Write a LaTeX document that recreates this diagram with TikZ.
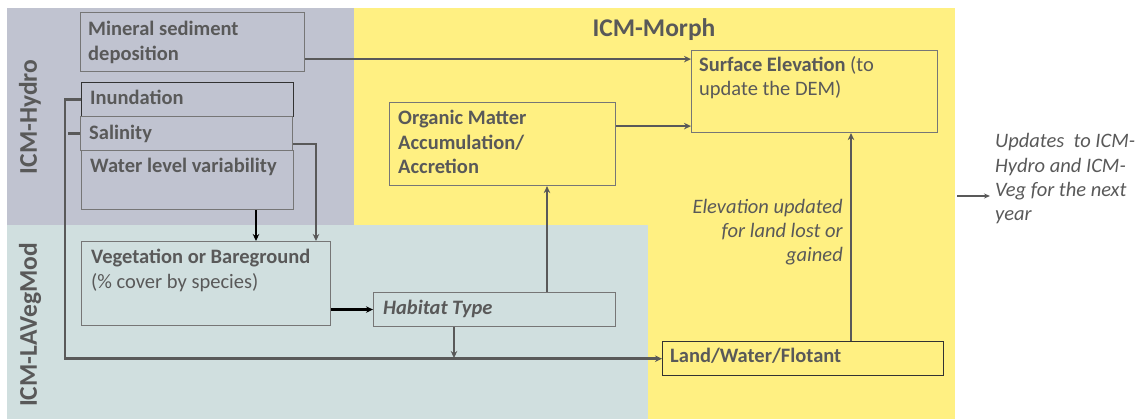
\documentclass[tikz,border=0pt]{standalone}
\usepackage{fontspec}
\setmainfont{Carlito}
\usetikzlibrary{arrows.meta,calc}
\definecolor{hydrobg}{RGB}{192,195,208}
\definecolor{morphbg}{RGB}{255,240,130}
\definecolor{vegbg}{RGB}{208,223,223}
\definecolor{txt}{RGB}{89,89,89}
\definecolor{boxline}{RGB}{118,118,118}
\definecolor{darkline}{RGB}{50,50,50}
\begin{document}
\begin{tikzpicture}[x=1pt,y=-1pt,
  box/.style={draw=boxline,line width=1.1pt,inner sep=0pt,anchor=north west},
  darkbox/.style={box,draw=darkline,line width=1.4pt},
  lbl/.style={anchor=base west,inner sep=0pt,text=txt,font=\fontsize{20.5}{24.5}\selectfont},
  blbl/.style={lbl,font=\fontsize{20.5}{24.5}\selectfont\bfseries},
  ilbl/.style={lbl,font=\fontsize{20.5}{24.5}\selectfont\itshape},
  rlbl/.style={ilbl,anchor=base east},
  conn/.style={draw=txt,line width=2.8pt},
  arr/.style={conn,-{Stealth[length=7pt,width=6.5pt]}},
  blkarr/.style={draw=black,line width=2.8pt,-{Stealth[length=7pt,width=6.5pt]}},
  region/.style={font=\fontsize{25.5}{30}\selectfont\bfseries,text=txt,inner sep=0pt}
]
\useasboundingbox (0,0) rectangle (1146,419);
% regions
\fill[hydrobg] (7,8) rectangle (354,225);
\fill[morphbg] (354,8) rectangle (955,419);
\fill[vegbg] (7,225) rectangle (648,419);
\node[region,rotate=90] (thydro) at (30,117) {ICM-Hydro};
\node[region,rotate=90] (tveg) at (30,325) {ICM-LAVegMod};
\node[region,anchor=base] (tmorph) at (654,37) {ICM-Morph};
% boxes
\node[box,minimum width=224pt,minimum height=59pt] (min) at (80,12) {};
\node[blbl] (tmin1) at (88,36) {Mineral sediment};
\node[blbl] (tmin2) at (88,61) {deposition};
\node[darkbox,minimum width=212pt,minimum height=34pt] (inun) at (81,82) {};
\node[blbl] (tinun) at (90,105) {Inundation};
\node[box,minimum width=212pt,minimum height=34pt] (sal) at (80,116) {};
\node[blbl] (tsal) at (89,140) {Salinity};
\node[box,minimum width=212pt,minimum height=59pt] (wlv) at (81,150) {};
\node[blbl] (twlv) at (90,173) {Water level variability};
\node[box,minimum width=249pt,minimum height=84pt] (veg) at (81,241) {};
\node[blbl] (tveg1) at (91,264) {Vegetation or Bareground};
\node[lbl] (tveg2) at (91,289) {(\% cover by species)};
\node[box,minimum width=242pt,minimum height=34pt] (hab) at (373,292) {};
\node[blbl,font=\fontsize{20.5}{24.5}\selectfont\bfseries\itshape] (thab) at (383,315) {Habitat Type};
\node[box,minimum width=226pt,minimum height=83pt] (org) at (389,102) {};
\node[blbl] (torg1) at (398,125) {Organic Matter};
\node[blbl] (torg2) at (398,150) {Accumulation/};
\node[blbl] (torg3) at (398,174) {Accretion};
\node[box,minimum width=246pt,minimum height=82pt] (surf) at (691,50) {};
\node[lbl] (tsurf1) at (699,72) {\textbf{Surface Elevation} (to};
\node[lbl] (tsurf2) at (699,96) {update the DEM)};
\node[darkbox,minimum width=281pt,minimum height=34pt] (land) at (662,341) {};
\node[blbl] (tland) at (670,363) {Land/Water/Flotant};
\node[rlbl] (telev1) at (843,214) {Elevation updated};
\node[rlbl] (telev2) at (843,238) {for land lost or};
\node[rlbl] (telev3) at (843,262) {gained};
\node[ilbl] (tupd1) at (995,148) {Updates~ to ICM-};
\node[ilbl] (tupd2) at (995,173) {Hydro and ICM-};
\node[ilbl] (tupd3) at (995,197) {Veg for the next};
\node[ilbl] (tupd4) at (995,221) {year};
% connectors
\draw[arr] ([yshift=13pt]min.south east) -- ([yshift=13pt]min.south east -| surf.west);
\draw[arr] ([yshift=7pt]surf.south west -| org.east) -- ([yshift=7pt]surf.south west);
\draw[arr] (hab.north -| 547,0) -- (org.south -| 547,0);
\draw[arr] (land.north -| 851,0) -- (surf.south -| 851,0);
\coordinate (jn) at (454,358);
\draw[arr] (hab.south -| jn) -- (jn);
\draw[arr] (inun.west) -- ++(-16,0) |- (land.west);
\draw[conn] (sal.west) -- ++(-12,0);
\draw[arr] ([yshift=7pt]sal.south east) -| (veg.north -| 316,0);
\draw[blkarr] (wlv.south -| 256,0) -- (veg.north -| 256,0);
\draw[blkarr] (veg.east |- hab.west) -- (hab.west);
\coordinate (o1) at (957,196);
\coordinate (o2) at (990,196);
\draw[draw=txt,line width=1.6pt,-{Stealth[length=6pt,width=5pt]}] (o1) -- (o2);
\end{tikzpicture}
\end{document}
